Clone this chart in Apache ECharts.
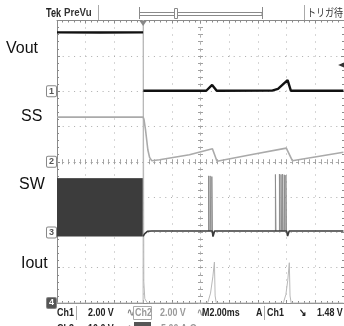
<!DOCTYPE html>
<html>
<head>
<meta charset="utf-8">
<script src="https://cdn.jsdelivr.net/npm/echarts@6/dist/echarts.min.js"></script>
<style>
  html, body { margin: 0; padding: 0; background: #fff; }
  #scope { width: 344px; height: 326px; }
</style>
</head>
<body>
<div id="scope"></div>
<script>
// ---- acquisition: time in ms (trigger at 0), channel values in V / A ----
// Vout before the short, then after it (the fast falling edge leaves almost no trace)
const voutPreT = [-6, -3, 0];
const voutPreV = [3.33, 3.32, 3.33];
const voutT = [0.02, 4.4, 4.81, 5.13, 8.99, 9.4, 10.07, 10.3, 13.96];
const voutV = [0.02, 0.02, 0.35, 0.02, 0.03, 0.13, 0.62, 0.02, 0.02];

const ssT = [-6, 0, 0.06, 0.17, 0.33, 0.45, 0.6, 1.15, 3.23, 4.83, 5.15, 7.5, 9.98, 10.4, 13.96];
const ssV = [2.53, 2.53, 2.4, 1.8, 0.68, 0.25, 0.06, 0.11, 0.4, 0.74, 0.03, 0.4, 0.77, 0.06, 0.54];

// SW: continuous switching before the short (drawn as its envelope), then bursts
const swBlockT = [-6, 0];
const swHigh = 15.2;
const swLow = -1.15;
const swT = [0, 0.1, 0.3, 0.6, 4.82, 4.87, 4.98, 10.0, 10.07, 10.18, 13.96];
const swV = [-1.15, -0.4, 0.3, 0.4, 0.4, -1.2, 0.4, 0.4, -1.05, 0.4, 0.4];
const swBase = 0.4;
const swPulseT = [4.56, 4.67, 4.79, 9.22, 9.5, 9.61, 9.72, 9.84, 9.95];
const swPulseV = [16.0, 16.0, 15.8, 16.4, 16.5, 16.4, 16.5, 16.3, 16.2];
const pulseW = 0.04;

const ioutT = [-6, 0, 0.01, 0.05, 0.12, 0.3, 4.5, 4.7, 4.86, 4.97, 5.02, 5.1, 9.77, 9.95, 10.08, 10.19, 10.24, 10.32, 13.96];
const ioutV = [0, 0, 48, 3, 0.6, 0, 0, 1.4, 3.7, 5.8, 1.0, 0, 0, 1.2, 3.2, 5.7, 1.0, 0, 0];

const trigLevel = 1.48;          // Ch1 falling edge

// ---- channel setup: volts (amps) per division, ground in divisions from top ----
const chNames = ['1', '2', '3', '4'];
const chScale = [2, 2, 10, 5];
const chGroundDiv = [2, 4, 6, 8];
const traceNames = ['Vout', 'SS', 'SW', 'Iout'];

const zip = (t, v) => t.map((x, i) => [x, v[i]]);

const borderColor = '#8a8a8a';
const dotH = { color: '#acacac', width: 1, type: [1, 4.7] };
const dotV = { color: '#acacac', width: 1, type: [1, 6] };

function timeAxis(extra) {
  return Object.assign({
    type: 'value', min: -6, max: 14, interval: 2,
    axisLabel: { show: false },
    splitLine: { show: false },
    axisTick: { show: true, inside: true, length: 3, lineStyle: { color: borderColor } },
    minorTick: { show: true, splitNumber: 5, length: 2, lineStyle: { color: borderColor } }
  }, extra);
}
function divAxis(extra) {
  return Object.assign({
    type: 'value', min: -4, max: 4, interval: 1,
    axisLabel: { show: false },
    splitLine: { show: false },
    axisTick: { show: true, inside: true, length: 3, lineStyle: { color: borderColor } },
    minorTick: { show: true, splitNumber: 5, length: 2, lineStyle: { color: borderColor } }
  }, extra);
}

const xAxis = [
  timeAxis({ position: 'bottom', axisLine: { show: true, onZero: false, lineStyle: { color: borderColor } },
             splitLine: { show: true, lineStyle: dotV } }),
  timeAxis({ position: 'top', axisLine: { show: true, onZero: false, lineStyle: { color: borderColor } } }),
  timeAxis({ position: 'bottom', axisLine: { show: true, onZero: true, onZeroAxisIndex: 0, lineStyle: dotH },
             axisTick: { show: true, inside: true, length: 2.5, lineStyle: { color: '#a0a0a0' } },
             minorTick: { show: true, splitNumber: 5, length: 2.5, lineStyle: { color: '#a0a0a0' } } }),
  timeAxis({ position: 'top', axisLine: { show: true, onZero: true, onZeroAxisIndex: 0, lineStyle: dotH },
             axisTick: { show: true, inside: true, length: 2.5, lineStyle: { color: '#a0a0a0' } },
             minorTick: { show: true, splitNumber: 5, length: 2.5, lineStyle: { color: '#a0a0a0' } } }),
  { type: 'value', min: -5, max: 5, show: false }
];

const yAxis = [
  divAxis({ position: 'left', axisLine: { show: true, onZero: false, lineStyle: { color: borderColor } },
            splitLine: { show: true, lineStyle: dotH } }),
  divAxis({ position: 'right', axisLine: { show: true, onZero: false, lineStyle: { color: borderColor } } }),
  divAxis({ position: 'left', axisLine: { show: true, onZero: true, onZeroAxisIndex: 4, lineStyle: dotV },
            axisTick: { show: true, inside: true, length: 2.5, lineStyle: { color: '#a0a0a0' } },
            minorTick: { show: true, splitNumber: 5, length: 2.5, lineStyle: { color: '#a0a0a0' } } }),
  divAxis({ position: 'right', axisLine: { show: true, onZero: true, onZeroAxisIndex: 4, lineStyle: dotV },
            axisTick: { show: true, inside: true, length: 2.5, lineStyle: { color: '#a0a0a0' } },
            minorTick: { show: true, splitNumber: 5, length: 2.5, lineStyle: { color: '#a0a0a0' } } })
];

// one axis per channel, scaled by its V/div and ground position; its ground marker is its label
chNames.forEach((name, i) => {
  const s = chScale[i], g = chGroundDiv[i];
  const dark = i === 3;
  yAxis.push({
    type: 'value', position: 'left',
    min: -(8 - g) * s, max: g * s, interval: s,
    axisLine: { show: false, onZero: false },
    axisTick: { show: false },
    splitLine: { show: false },
    axisLabel: {
      show: true, customValues: [0], formatter: () => name, margin: 1,
      fontSize: 9, fontFamily: 'Liberation Sans', fontWeight: 'bold',
      color: dark ? '#fff' : '#555',
      backgroundColor: dark ? '#555' : '#fff',
      borderColor: '#888', borderWidth: 1, borderRadius: 1, padding: [1, 2, 0, 2]
    }
  });
});
const CH = [4, 5, 6, 7];

const line = (data, yIdx, color, width, extra) => Object.assign({
  type: 'line', xAxisIndex: 0, yAxisIndex: yIdx, data,
  symbol: 'none', silent: true, animation: false,
  lineStyle: { color, width }
}, extra);

const series = [];
// SW switching envelope before the short
series.push(line(zip(swBlockT, [swHigh, swHigh]), CH[2], '#3c3c3c', 1,
  { areaStyle: { color: '#3c3c3c', opacity: 1, origin: swLow } }));
// Iout
series.push(line(zip(ioutT, ioutV), CH[3], '#b8b8b8', 1));
// SS
series.push(line(zip(ssT, ssV), CH[1], '#aaaaaa', 1.6));
// SW bursts
swPulseT.forEach((t, i) => {
  series.push(line([[t, swBase], [t, swPulseV[i]], [t + pulseW, swPulseV[i]], [t + pulseW, swBase]],
    CH[2], '#8e8e8e', 1));
});
// SW baseline after the short
series.push(line(zip(swT, swV), CH[2], '#3a3a3a', 1.6));
// Vout before the short
series.push(line(zip(voutPreT, voutPreV), CH[0], '#111', 2.4));
// Vout after the short, with trigger markers
series.push(line(zip(voutT, voutV), CH[0], '#111', 2.4, {
  markPoint: {
    silent: true, animation: false, label: { show: false },
    data: [
      { coord: [13.8, trigLevel], symbol: 'triangle', symbolSize: [5, 6], symbolRotate: 90, itemStyle: { color: '#333' } },
      { coord: [0, chGroundDiv[0] * chScale[0]], symbol: 'triangle', symbolSize: [7, 5], symbolRotate: 180,
        symbolOffset: [0, 3], itemStyle: { color: '#888' } }
    ]
  }
}));

// ---- readouts and trace names ----
const sideFont = '16px "Liberation Sans", Arial, sans-serif';
const scopeFont = 'bold 11px "Liberation Sans", Arial, sans-serif';
const txt = (x, y, text, font, fill, sx) => ({
  type: 'text', x, y, scaleX: sx || 1, silent: true,
  style: { text, font, fill, align: 'left', verticalAlign: 'middle' }
});
const seg = (x1, y1, x2, y2, c) => ({
  type: 'line', silent: true, shape: { x1, y1, x2, y2 }, style: { stroke: c || '#aaa', lineWidth: 1 }
});

const graphic = [
  txt(6, 49, traceNames[0], sideFont, '#111'),
  txt(21, 117, traceNames[1], sideFont, '#111'),
  txt(19, 185, traceNames[2], sideFont, '#111'),
  txt(21, 264, traceNames[3], sideFont, '#111'),

  // header
  txt(46, 13, 'Tek', 'bold 13px "Liberation Sans", Arial, sans-serif', '#222', 0.7),
  txt(64, 13, 'PreVu', 'bold 11px "Liberation Sans", Arial, sans-serif', '#333', 0.88),
  seg(98.5, 5, 98.5, 20),
  { type: 'rect', silent: true, shape: { x: 139.5, y: 12.5, width: 122.5, height: 3 },
    style: { fill: 'none', stroke: '#8a8a8a', lineWidth: 1 } },
  seg(139.5, 7, 139.5, 19, '#8a8a8a'),
  seg(262.5, 7, 262.5, 19, '#8a8a8a'),
  { type: 'rect', silent: true, shape: { x: 174.5, y: 8.5, width: 3, height: 10 },
    style: { fill: '#fff', stroke: '#8a8a8a', lineWidth: 1 } },
  seg(304.5, 5, 304.5, 20),
  txt(307, 13, 'トリガ待ち', '11px "Noto Sans CJK JP", sans-serif', '#333', 0.82),

  // status line 1
  txt(57, 313, 'Ch1', scopeFont, '#222', 0.81),
  seg(76.5, 306, 76.5, 320),
  txt(88, 313, '2.00 V', scopeFont, '#222', 0.81),
  txt(127, 313, '∿', scopeFont, '#888', 0.81),
  { type: 'rect', silent: true, shape: { x: 133.5, y: 306.5, width: 18, height: 13 },
    style: { fill: 'none', stroke: '#aaa', lineWidth: 1 } },
  txt(135, 313, 'Ch2', scopeFont, '#9a9a9a', 0.81),
  txt(160, 313, '2.00 V', scopeFont, '#9a9a9a', 0.81),
  txt(197, 313, '∿', scopeFont, '#9a9a9a', 0.81),
  txt(202, 313, 'M2.00ms', scopeFont, '#222', 0.81),
  txt(256, 313, 'A', scopeFont, '#222', 0.81),
  seg(264.5, 306, 264.5, 320),
  txt(267, 313, 'Ch1', scopeFont, '#222', 0.81),
  txt(299, 313, '↘', scopeFont, '#222', 0.81),
  txt(317, 313, '1.48 V', scopeFont, '#222', 0.81),

  // status line 2 (runs off the bottom edge)
  txt(57, 329, 'Ch3', scopeFont, '#222', 0.81),
  txt(88, 329, '10.0 V', scopeFont, '#222', 0.81),
  txt(127, 329, '∿', scopeFont, '#888', 0.81),
  { type: 'rect', silent: true, shape: { x: 134, y: 322, width: 17, height: 10 }, style: { fill: '#555' } },
  txt(161, 329, '5.00 A Ω', scopeFont, '#9a9a9a', 0.81)
];

const chart = echarts.init(document.getElementById('scope'), null, { renderer: 'canvas', width: 344, height: 326 });
chart.setOption({
  backgroundColor: '#fff',
  animation: false,
  grid: { left: 57, top: 20.5, width: 287.5, height: 282.5, containLabel: false },
  xAxis,
  yAxis,
  series,
  graphic
});
</script>
</body>
</html>
